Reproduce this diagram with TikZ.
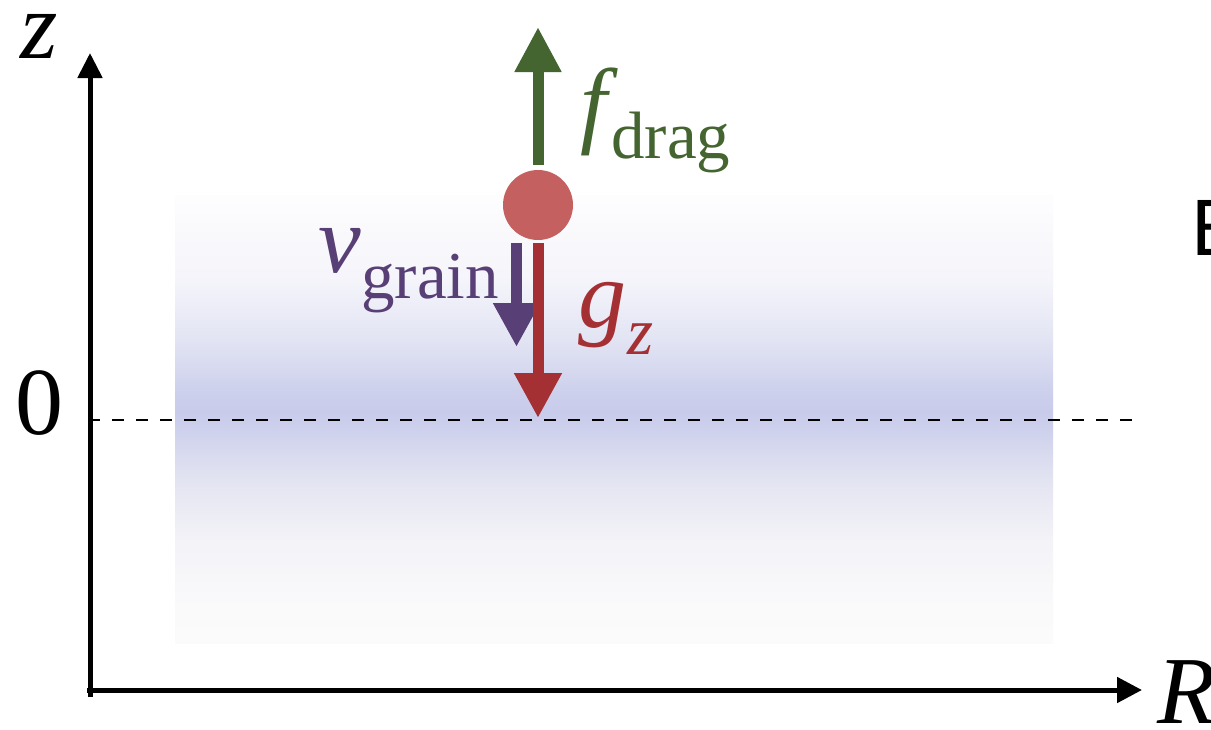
\documentclass[tikz,border=0pt]{standalone}
\usepackage{fontspec}
\setmainfont{Liberation Serif}
\newfontfamily\esans{Liberation Sans}
\usetikzlibrary{arrows.meta}
\definecolor{dragcol}{RGB}{68,100,48}
\definecolor{gcol}{RGB}{165,48,52}
\definecolor{vcol}{RGB}{88,64,118}
\definecolor{graincol}{RGB}{196,96,96}
\pgfdeclareverticalshading{bandshade}{100bp}{%
  rgb(0bp)=(0.985,0.985,0.985);
  rgb(25bp)=(0.985,0.985,0.985);
  rgb(29.8bp)=(0.978,0.978,0.984);
  rgb(36.5bp)=(0.952,0.952,0.972);
  rgb(43.2bp)=(0.890,0.894,0.945);
  rgb(48.75bp)=(0.810,0.820,0.928);
  rgb(50.8bp)=(0.784,0.796,0.918);
  rgb(53.25bp)=(0.806,0.818,0.926);
  rgb(58.8bp)=(0.886,0.894,0.955);
  rgb(65.5bp)=(0.958,0.958,0.982);
  rgb(75bp)=(0.994,0.994,0.997);
  rgb(100bp)=(0.994,0.994,0.997)}
\begin{document}
\begin{tikzpicture}[x=1pt,y=-1pt,
  axisline/.style={line width=5pt,draw=black},
  dashline/.style={line width=2pt,dash pattern=on 12pt off 12pt},
  force/.style={line width=11pt},
  lbl/.style={inner sep=0pt,anchor=base west,font=\fontsize{96}{100}\selectfont},
  sublbl/.style={inner sep=0pt,anchor=base west,font=\fontsize{67}{70}\selectfont},
  grainball/.style={circle,fill=graincol,draw=none,minimum size=70pt,inner sep=0pt}]
\clip (0,0) rectangle (1211,729);
\fill[white] (0,0) rectangle (1211,729);
% gradient band
\shade[shading=bandshade] (175,195) rectangle (1053,643);
% coordinates
\coordinate (dl) at (88,420);
\coordinate (dr) at (1132,420);
\coordinate (zbot) at (90,697);
\coordinate (ztip) at (90,53);
\coordinate (xleft) at (87,690);
\coordinate (Rtip) at (1142,690);
\coordinate (fbase) at (538,165);
\coordinate (ftip) at (538,27);
\coordinate (gbase) at (538,243);
\coordinate (gtip) at (538,418);
\coordinate (vbase) at (516.5,243);
\coordinate (vtip) at (516.5,347);
% dashed zero line
\draw[dashline] (dl) -- (dr);
% axes
\draw[axisline,-{Triangle[length=25pt,width=24pt]}] (zbot) -- (ztip);
\draw[axisline,-{Triangle[length=25pt,width=25pt]}] (xleft) -- (Rtip);
% grain
\node[grainball] (grain) at (538,205) {};
% forces
\draw[force,dragcol,-{Triangle[length=45pt,width=44pt]}] (fbase) -- (ftip);
\draw[force,vcol,-{Triangle[length=44pt,width=44pt]}] (vbase) -- (vtip);
\draw[force,gcol,-{Triangle[length=45pt,width=45pt]}] (gbase) -- (gtip);
% labels
\node[lbl] (zlab) at (20,58) {\textit{z}};
\node[lbl] (zerolab) at (15,434) {0};
\node[lbl] (Rlab) at (1157,723) {\textit{R}};
\node[lbl,text=dragcol] (flab) at (580,135) {\textit{f}};
\node[sublbl,text=dragcol] (fsub) at (611,158) {drag};
\node[lbl,text=vcol] (vlab) at (318,272) {\textit{v}};
\node[sublbl,text=vcol] (vsub) at (361,298) {grain};
\node[lbl,text=gcol] (glab) at (578,327) {\textit{g}};
\node[sublbl,text=gcol] (gsub) at (627,354) {\textit{z}};
\node[inner sep=0pt,anchor=base west,font=\esans\fontsize{80}{84}\selectfont] (elab) at (1191,255) {E};
\end{tikzpicture}
\end{document}
